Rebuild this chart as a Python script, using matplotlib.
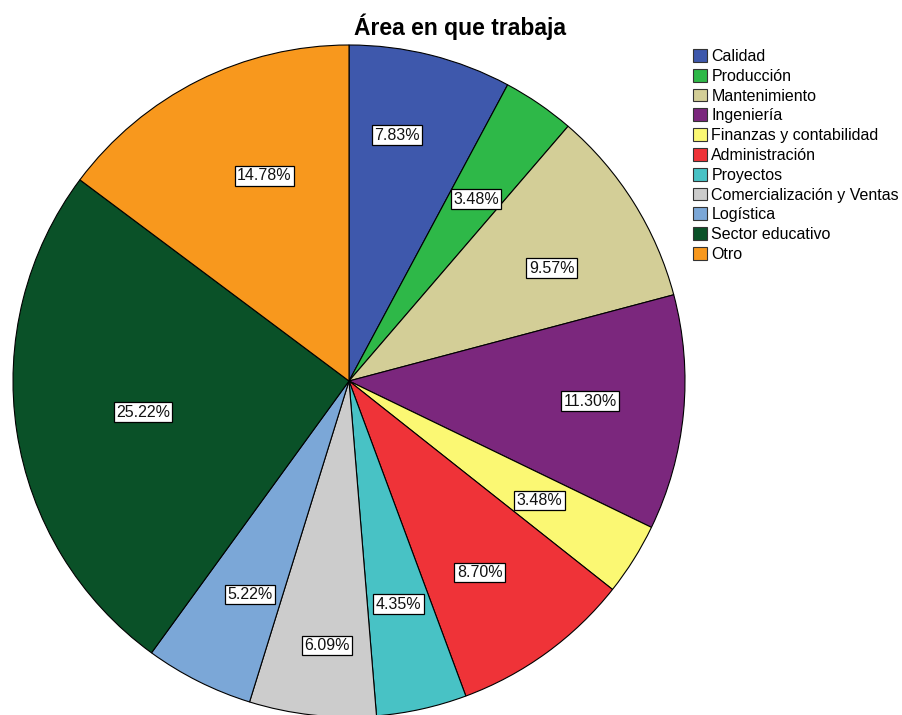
import matplotlib
matplotlib.use("Agg")
import matplotlib.pyplot as plt
import numpy as np

plt.rcParams['font.family'] = ['Liberation Sans', 'DejaVu Sans']

categories = ["Calidad", "Producción", "Mantenimiento", "Ingeniería",
              "Finanzas y contabilidad", "Administración", "Proyectos",
              "Comercialización y Ventas", "Logística", "Sector educativo", "Otro"]
counts = [9, 4, 11, 13, 4, 10, 5, 7, 6, 29, 17]
colors = ["#3E58AC", "#2EB848", "#D3CE97", "#7B277D", "#FBF873", "#EF3338",
          "#48C2C5", "#CCCCCC", "#7BA7D7", "#0A5128", "#F8981D"]
title = "Área en que trabaja"

# label placement (layout): radial fraction and clockwise angle nudge (deg)
label_r = [0.745, 0.66, 0.69, 0.72, 0.67, 0.69, 0.68, 0.79, 0.70, 0.62, 0.66]
label_da = [-3.0, 0.5, 3.0, -0.7, 0, 1.7, 0, -1.5, -1.8, 0, 4.2]

W, H = 902, 715
fig = plt.figure(figsize=(W / 100, H / 100), dpi=100)
cx, cy, R = 349, 381, 336
ax = fig.add_axes([(cx - R) / W, 1 - (cy + R) / H, 2 * R / W, 2 * R / H])

wedges, _ = ax.pie(counts, colors=colors, startangle=90, counterclock=False,
                   radius=1.0, wedgeprops=dict(edgecolor='black', linewidth=0.8))
ax.set_xlim(-1, 1)
ax.set_ylim(-1, 1)
ax.set_aspect('equal')
ax.axis('off')
for w in wedges:
    w.set_clip_on(False)

total = sum(counts)
for w, c, r, da in zip(wedges, counts, label_r, label_da):
    ang = np.deg2rad((w.theta1 + w.theta2) / 2 - da)
    x, y = r * np.cos(ang), r * np.sin(ang)
    ax.text(x, y, f"{100 * c / total:.2f}%", ha='center', va='center', fontsize=11.5,
            color='#111111',
            bbox=dict(boxstyle='square,pad=0.15', facecolor='white', edgecolor='black', linewidth=0.9))

fig.text(460 / W, 1 - 27 / H, title, ha='center', va='center', fontsize=16.5, fontweight='bold')

leg = fig.legend(wedges, categories, loc='upper left', bbox_to_anchor=(693 / W, 1 - 49 / H),
                 frameon=False, fontsize=11.5, handlelength=0.85, handleheight=0.85,
                 handletextpad=0.3, labelspacing=0.30, borderaxespad=0, borderpad=0)
for h in leg.legend_handles:
    h.set_edgecolor('#333333')
    h.set_linewidth(0.8)

fig.savefig("out.png", dpi=100)
